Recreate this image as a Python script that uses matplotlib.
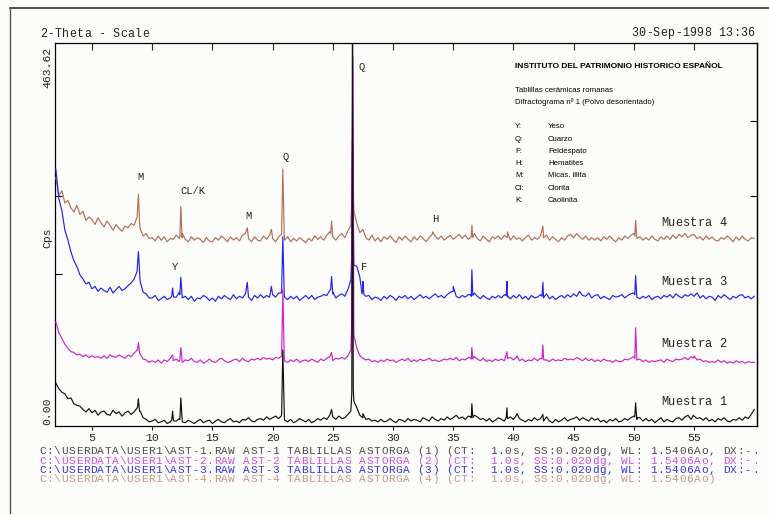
import numpy as np
import matplotlib
matplotlib.use('Agg')
import matplotlib.pyplot as plt

# scan positions of the background points (2-theta, degrees)
two_theta = np.arange(2.0, 60.001, 0.25)

# background counts (cps), 4 values per degree from 2 to 60
muestra1_bg = [
    52, 45, 41, 39, 33, 34, 27, 25, 24, 20, 17, 21, 16, 19, 13, 17,
    18, 14, 13, 19, 15, 17, 12, 16, 18, 14, 17, 22, 18, 10, 8, 5,
    6, 8, 4, 5, 7, 3, 5, 8, 6, 9, 5, 4, 7, 5, 3, 6,
    8, 4, 6, 7, 3, 6, 8, 5, 4, 7, 9, 5, 6, 4, 8, 7,
    10, 6, 5, 8, 9, 7, 11, 8, 10, 12, 9, 14, 7, 5, 8, 4,
    6, 9, 7, 5, 8, 4, 6, 9, 7, 10, 8, 13, 11, 8, 12, 9,
    10, 14, 18, 30, 22, 13, 10, 8, 9, 6, 7, 5, 8, 5, 6, 9,
    6, 4, 8, 7, 5, 9, 6, 8, 7, 5, 10, 8, 6, 11, 8, 6,
    9, 7, 11, 8, 10, 13, 9, 11, 8, 12, 10, 13, 11, 8, 9, 6,
    9, 5, 7, 10, 8, 6, 10, 11, 8, 13, 9, 7, 5, 8, 6, 10,
    7, 9, 6, 11, 6, 4, 8, 5, 7, 10, 6, 8, 9, 11, 7, 10,
    8, 6, 10, 7, 9, 5, 7, 4, 8, 6, 9, 5, 6, 9, 7, 10,
    12, 8, 10, 6, 9, 6, 8, 4, 7, 10, 5, 8, 6, 5, 9, 10,
    7, 11, 13, 8, 12, 9, 10, 7, 10, 6, 8, 5, 9, 7, 10, 6,
    5, 8, 7, 10, 7, 11, 9, 14, 20,
]
muestra2_bg = [
    56, 43, 36, 29, 24, 20, 19, 16, 17, 14, 16, 13, 15, 13, 14, 12,
    15, 12, 16, 14, 13, 16, 14, 12, 16, 14, 18, 22, 17, 11, 10, 7,
    9, 7, 10, 6, 10, 8, 12, 9, 11, 8, 7, 10, 9, 12, 8, 7,
    10, 6, 8, 11, 8, 7, 10, 12, 9, 7, 8, 10, 11, 8, 12, 9,
    8, 11, 10, 12, 10, 13, 11, 12, 10, 13, 12, 15, 9, 7, 10, 8,
    11, 7, 9, 10, 8, 11, 9, 7, 11, 9, 12, 14, 9, 12, 11, 13,
    11, 15, 22, 40, 24, 15, 12, 10, 11, 8, 9, 7, 10, 8, 11, 9,
    10, 7, 9, 11, 9, 12, 8, 10, 8, 11, 9, 10, 12, 9, 10, 8,
    9, 11, 10, 12, 10, 13, 9, 11, 10, 13, 11, 14, 11, 9, 12, 8,
    10, 8, 11, 9, 11, 9, 12, 13, 10, 13, 9, 11, 8, 10, 9, 12,
    9, 12, 13, 10, 8, 11, 9, 10, 9, 12, 10, 11, 10, 13, 11, 9,
    12, 9, 11, 8, 10, 8, 11, 9, 9, 7, 10, 8, 8, 11, 10, 12,
    14, 10, 11, 8, 10, 7, 9, 8, 9, 10, 7, 11, 9, 8, 11, 10,
    11, 13, 10, 14, 12, 10, 11, 8, 9, 7, 8, 7, 10, 7, 9, 6,
    8, 6, 9, 7, 8, 6, 8, 7, 7,
]
muestra3_bg = [
    166, 130, 116, 92, 80, 66, 55, 48, 38, 33, 27, 29, 21, 24, 18, 22,
    19, 17, 23, 16, 20, 24, 19, 21, 25, 28, 33, 42, 30, 17, 15, 10,
    10, 13, 7, 9, 12, 8, 10, 14, 11, 17, 10, 12, 8, 12, 6, 10,
    9, 13, 11, 7, 10, 6, 12, 9, 13, 10, 8, 14, 9, 12, 10, 15,
    11, 7, 13, 10, 14, 10, 13, 11, 14, 11, 16, 18, 11, 8, 12, 9,
    12, 7, 10, 13, 9, 13, 8, 11, 12, 14, 13, 19, 15, 10, 13, 15,
    12, 20, 32, 50, 48, 35, 20, 12, 13, 8, 11, 10, 7, 12, 9, 13,
    11, 7, 12, 10, 13, 9, 12, 8, 11, 14, 10, 12, 9, 12, 15, 11,
    13, 10, 14, 17, 18, 12, 10, 13, 11, 14, 12, 16, 12, 9, 13, 10,
    8, 12, 10, 13, 10, 14, 11, 9, 13, 10, 14, 9, 12, 8, 13, 10,
    11, 14, 10, 15, 9, 12, 8, 11, 13, 10, 14, 11, 15, 12, 18, 13,
    12, 16, 10, 13, 14, 9, 12, 10, 8, 13, 11, 12, 14, 10, 13, 15,
    16, 11, 9, 12, 10, 13, 8, 11, 12, 9, 13, 11, 14, 10, 15, 12,
    10, 14, 12, 15, 12, 16, 10, 13, 9, 12, 11, 7, 13, 10, 14, 11,
    8, 12, 10, 13, 14, 10, 12, 9, 12,
]
muestra4_bg = [
    86, 64, 70, 55, 58, 49, 44, 52, 41, 45, 34, 38, 35, 29, 37, 31,
    26, 33, 28, 22, 29, 24, 21, 27, 25, 30, 28, 38, 24, 15, 18, 12,
    13, 9, 15, 10, 14, 8, 12, 11, 16, 12, 18, 11, 8, 14, 10, 13,
    11, 7, 13, 9, 8, 13, 10, 15, 12, 8, 14, 10, 13, 9, 16, 18,
    12, 8, 14, 10, 9, 15, 11, 16, 12, 8, 14, 18, 10, 14, 8, 12,
    9, 13, 10, 7, 12, 9, 15, 11, 14, 10, 16, 20, 14, 10, 15, 18,
    13, 21, 28, 45, 30, 19, 23, 13, 10, 16, 9, 13, 8, 14, 11, 15,
    11, 7, 14, 10, 15, 11, 8, 14, 10, 15, 12, 8, 13, 17, 15, 11,
    15, 10, 13, 16, 11, 14, 17, 12, 16, 11, 14, 18, 12, 9, 15, 11,
    8, 14, 12, 15, 11, 16, 13, 10, 15, 11, 13, 9, 13, 16, 10, 13,
    11, 15, 13, 16, 10, 14, 11, 8, 13, 10, 15, 17, 13, 18, 14, 11,
    15, 10, 13, 10, 13, 9, 14, 11, 15, 11, 8, 13, 10, 15, 12, 16,
    18, 12, 14, 10, 13, 10, 15, 11, 9, 14, 11, 15, 11, 16, 12, 17,
    14, 18, 13, 16, 17, 12, 14, 10, 15, 11, 14, 10, 9, 13, 11, 15,
    12, 8, 14, 10, 15, 11, 9, 13, 12,
]

# diffraction peaks (2-theta, cps) including the points at their feet
muestra1_peaks = [
    (8.78, 22), (8.85, 33), (8.95, 18), (11.62, 7), (11.7, 18), (11.8, 6),
    (12.3, 8), (12.38, 34), (12.48, 8), (20.72, 12), (20.85, 92), (20.98, 10),
    (24.9, 20), (26.58, 40), (26.64, 600), (26.7, 45), (27.5, 15),
    (36.48, 11), (36.55, 27), (36.63, 10), (39.4, 10), (39.47, 22), (39.55, 9),
    (40.3, 15), (42.45, 14), (50.08, 11), (50.15, 28), (50.25, 10), (54.95, 13),
]
muestra2_peaks = [
    (8.78, 22), (8.86, 31), (8.96, 18), (11.7, 16),
    (12.3, 10), (12.38, 25), (12.48, 9), (20.73, 14), (20.85, 95), (20.97, 12),
    (24.9, 19), (26.56, 45), (26.66, 377), (26.74, 50),
    (36.48, 12), (36.55, 25), (36.63, 11), (39.47, 20), (40.3, 15),
    (42.38, 11), (42.45, 28), (42.53, 10), (50.08, 12), (50.15, 49), (50.24, 11),
    (55.0, 15),
]
muestra3_peaks = [
    (8.78, 50), (8.86, 66), (8.98, 36), (11.62, 12), (11.7, 22), (11.8, 11),
    (12.3, 14), (12.38, 35), (12.48, 14), (17.9, 29), (19.9, 24),
    (20.73, 16), (20.85, 84), (20.97, 14), (24.82, 20), (24.9, 36), (25.0, 17),
    (26.57, 60), (26.64, 202), (26.72, 90), (27.42, 15), (27.5, 30), (27.58, 14),
    (35.0, 24), (36.47, 14), (36.55, 44), (36.63, 13),
    (39.4, 13), (39.47, 30), (39.55, 12), (42.38, 12), (42.45, 29), (42.53, 11),
    (50.08, 14), (50.15, 37), (50.24, 12),
]
muestra4_peaks = [
    (8.78, 45), (8.86, 65), (8.96, 30), (12.3, 14), (12.38, 51), (12.48, 13),
    (17.9, 25), (19.9, 23), (20.73, 17), (20.85, 96), (20.97, 15),
    (24.82, 18), (24.9, 33), (24.98, 16), (26.57, 55), (26.64, 156), (26.72, 60),
    (33.3, 20), (36.48, 14), (36.55, 28), (36.62, 13), (39.5, 20), (42.45, 27),
    (50.08, 15), (50.15, 34), (50.24, 13),
]

samples = ['Muestra 1', 'Muestra 2', 'Muestra 3', 'Muestra 4']
offsets = [0, 70, 145, 215]  # vertical shift of each trace (cps)
colors = ['#111111', '#cc22cc', '#2222e8', '#b36e55']
footer_colors = ['#4a4a4a', '#d050dc', '#3434e0', '#c49a86']

# peak identification labels: (text, 2-theta, cps)
peak_labels = [
    ('M', 9.0, 301), ('CL/K', 13.4, 285), ('M', 18.0, 254), ('Q', 21.1, 326),
    ('Q', 27.4, 434), ('H', 33.5, 251), ('Y', 11.9, 192), ('F', 27.6, 192),
]

legend_codes = ['Y:', 'Q:', 'F:', 'H:', 'M:', 'Cl:', 'K:']
legend_names = ['Yeso', 'Cuarzo', 'Feldespato', 'Hematites', 'Micas. illita',
                'Clorita', 'Caolinita']

footer = [
    r'C:\USERDATA\USER1\AST-1.RAW AST-1 TABLILLAS ASTORGA (1) (CT:  1.0s, SS:0.020dg, WL: 1.5406Ao, DX:-.',
    r'C:\USERDATA\USER1\AST-2.RAW AST-2 TABLILLAS ASTORGA (2) (CT:  1.0s, SS:0.020dg, WL: 1.5406Ao, DX:-.',
    r'C:\USERDATA\USER1\AST-3.RAW AST-3 TABLILLAS ASTORGA (3) (CT:  1.0s, SS:0.020dg, WL: 1.5406Ao, DX:-.',
    r'C:\USERDATA\USER1\AST-4.RAW AST-4 TABLILLAS ASTORGA (4) (CT:  1.0s, SS:0.020dg, WL: 1.5406Ao)',
]

W, H = 769, 517
MONO = 'Liberation Mono'
SANS = 'Liberation Sans'
PITCH = 7.27  # plotter font: one character cell, in pixels


def px(x, y):
    """Pixel position in the picture -> figure fraction."""
    return x / W, 1 - y / H


def plotter_text(x, y, s, color='#222222', size=8.2):
    """Write s on a fixed character grid, like the old pen plotter did."""
    for i, ch in enumerate(s):
        if ch != ' ':
            fig.text(*px(x + (i + 0.5) * PITCH, y), ch, family=MONO,
                     fontsize=size, color=color, ha='center', va='center')


fig = plt.figure(figsize=(W / 100, H / 100), dpi=100, facecolor='#fcfcfa')
ax = fig.add_axes([55 / W, 1 - 426 / H, 702 / W, 383 / H])
ax.set_facecolor('none')

series_bg = [muestra1_bg, muestra2_bg, muestra3_bg, muestra4_bg]
series_pk = [muestra1_peaks, muestra2_peaks, muestra3_peaks, muestra4_peaks]

# draw top sample first so black trace ends up on top
for i in [3, 2, 1, 0]:
    pk_x = [p[0] for p in series_pk[i]]
    pk_y = [p[1] for p in series_pk[i]]
    x = np.concatenate([two_theta, pk_x])
    y = np.concatenate([series_bg[i], pk_y]) + offsets[i]
    order = np.argsort(x, kind='stable')
    ax.plot(x[order], y[order], color=colors[i], lw=0.85, zorder=3 + (3 - i))

ax.set_xlim(1.93, 60.23)
ax.set_ylim(0, 463.62)
ax.set_xticks([5, 10, 15, 20, 25, 30, 35, 40, 45, 50, 55])
ax.tick_params(axis='x', which='major', direction='out', length=3, width=0.8,
               top=True, labeltop=False, pad=2, labelsize=8.2, colors='#222222')
for lbl in ax.get_xticklabels():
    lbl.set_family(MONO)
# top ticks point inwards
for t in ax.xaxis.get_major_ticks():
    t.tick2line.set_marker(3)
    t.tick2line.set_markersize(5)

# small marks on the side frames
ax.set_yticks([184, 278])
ax.tick_params(axis='y', direction='in', length=5, width=0.8, labelleft=False)
right = ax.secondary_yaxis('right')
right.set_yticks([278, 369])
right.tick_params(direction='in', length=5, width=0.8, labelright=False)

for sp in ax.spines.values():
    sp.set_linewidth(0.9)
right.spines['right'].set_linewidth(0.9)

# peak labels
for txt, tt, cps in peak_labels:
    ax.text(tt, cps, txt, family=MONO, fontsize=7.6, ha='center', va='center',
            zorder=10, color='#222222')

# sample names
for name, ypx in zip(samples, [402, 344, 282, 223]):
    plotter_text(661, ypx, name, size=8.6)

# header
plotter_text(40, 34, '2-Theta - Scale', size=8.4)
plotter_text(631, 33, '30-Sep-1998 13:36', size=8.4)

# y axis annotations
fig.text(*px(47, 67), '463.62', family=MONO, fontsize=8.2, rotation=90,
         ha='center', va='center', color='#222222')
fig.text(*px(47, 238), 'Cps', family=MONO, fontsize=8.2, rotation=90,
         ha='center', va='center', color='#222222')
fig.text(*px(47, 411), '0.00', family=MONO, fontsize=8.2, rotation=90,
         ha='center', va='center', color='#222222')

# info block
fig.text(*px(515, 67), 'INSTITUTO DEL PATRIMONIO HISTORICO ESPAÑOL', family=SANS,
         fontsize=6.0, weight='bold', va='center')
fig.text(*px(515, 90), 'Tablillas cerámicas romanas', family=SANS, fontsize=5.6,
         va='center')
fig.text(*px(515, 102), 'Difractograma nº 1 (Polvo desorientado)', family=SANS,
         fontsize=5.6, va='center')
for k, (code, name) in enumerate(zip(legend_codes, legend_names)):
    ypx = 127 + k * 12.2
    fig.text(*px(515, ypx), code, family=SANS, fontsize=5.6, va='center')
    fig.text(*px(548, ypx), name, family=SANS, fontsize=5.6, va='center')

# footer with file info
for k, (line, c) in enumerate(zip(footer, footer_colors)):
    plotter_text(39, 451 + k * 9.5, line, color=c, size=8.0)

# edges of the scanned sheet
fig.add_artist(plt.Line2D([10 / W, 1], [1 - 8 / H, 1 - 8 / H], color='#333333',
                          lw=1.2))
fig.add_artist(plt.Line2D([10 / W, 10 / W], [1 - 8 / H, 1 - 513 / H],
                          color='#555555', lw=1.0))

fig.savefig('out.png', dpi=100, facecolor=fig.get_facecolor())
